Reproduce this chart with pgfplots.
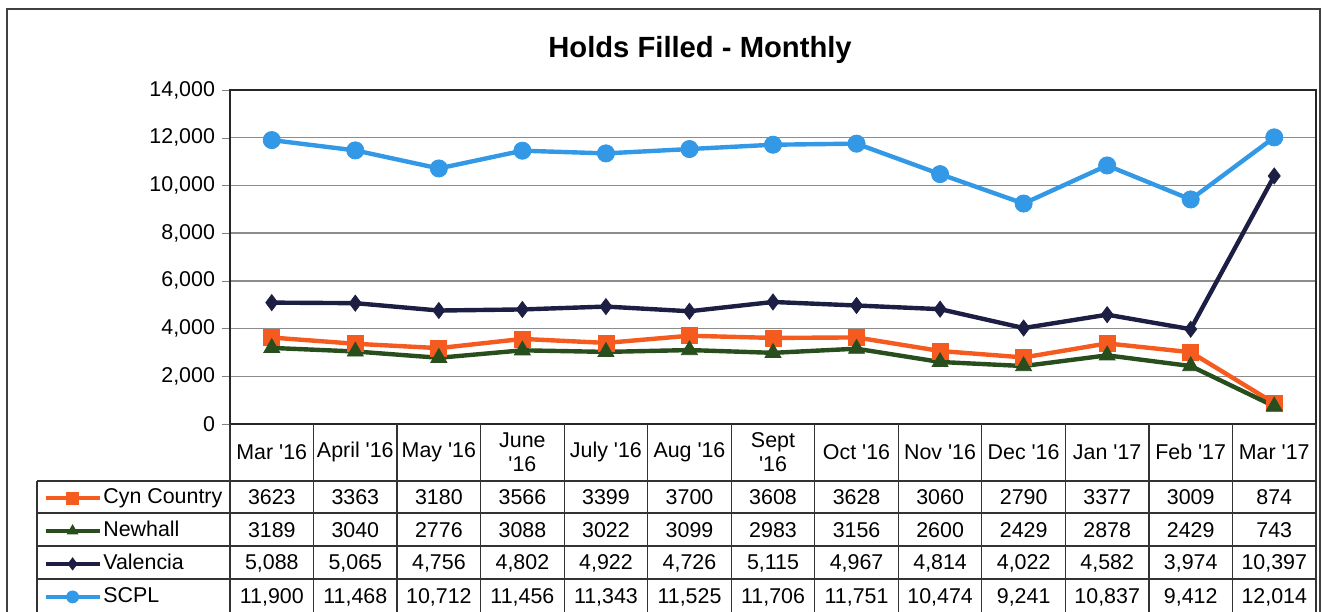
\documentclass[border=0pt]{standalone}
\usepackage{fontspec}
\setmainfont{Liberation Sans}[Ligatures=TeXOff]
\usepackage{pgfplots}
\pgfplotsset{compat=1.18}
\definecolor{cyn}{RGB}{245,90,30}
\definecolor{newh}{RGB}{40,78,30}
\definecolor{val}{RGB}{28,30,68}
\definecolor{scpl}{RGB}{51,153,230}
\pgfkeys{/pgf/number format/assume math mode=true}
\newcommand\tf{\fontsize{10.7}{12}\selectfont}
\begin{document}
\begin{tikzpicture}[x=0.5pt,y=0.5pt,font=\tf]
\useasboundingbox (0,0) rectangle (1323,611);
\draw[line width=0.8pt, black!75] (7,-10) -- (7,602) -- (1320,602) -- (1320,-10);
\node[font=\bfseries\fontsize{14.6}{16}\selectfont] at (700,561) {Holds Filled - Monthly};
\begin{axis}[at={(115pt,93.5pt)}, anchor=south west, scale only axis,
  width=543pt, height=167pt,
  xmin=-0.5, xmax=12.5, ymin=0, ymax=14000,
  ytick={0,2000,...,14000}, ytick pos=left, scaled y ticks=false,
  xtick={0,...,12},
  xticklabels={Mar '16, April '16, May '16, {June\\'16}, July '16, Aug '16, {Sept\\'16}, Oct '16, Nov '16, Dec '16, Jan '17, Feb '17, Mar '17},
  xticklabel style={align=center, anchor=center, yshift=-10pt, font=\tf},
  xtick style={draw=none},
  /pgf/number format/1000 sep={,},
  /pgf/number format/assume math mode=true,
  tick label style={font=\tf},
  tick align=outside, major tick length=4pt,
  ymajorgrids, grid style={black!45, line width=0.7pt},
  axis line style={line width=0.7pt, black!85},
  clip=false,
  legend style={at={(-0.1722,-0.1707)}, anchor=north west, draw=none, fill=none,
    inner sep=0pt, row sep=0pt, column sep=0.8pt, font=\tf,
    nodes={inner sep=0pt, minimum height=16.5pt, text height=7.7pt, text depth=2.3pt}},
  legend cell align=left,
  legend image code/.code={\draw[#1, mark repeat=2, mark phase=2, mark size=3pt] plot coordinates {(0pt,0pt) (13.5pt,0pt) (27pt,0pt)};},
  every axis plot/.append style={line width=2.2pt, mark options={solid, line width=0.4pt}},
]
\addplot[cyn, mark=square*, mark size=4pt] coordinates {(0,3623) (1,3363) (2,3180) (3,3566) (4,3399) (5,3700) (6,3608) (7,3628) (8,3060) (9,2790) (10,3377) (11,3009) (12,874)};
\addlegendentry{Cyn Country}
\addplot[newh, mark=triangle*, mark size=4.6pt] coordinates {(0,3189) (1,3040) (2,2776) (3,3088) (4,3022) (5,3099) (6,2983) (7,3156) (8,2600) (9,2429) (10,2878) (11,2429) (12,743)};
\addlegendentry{Newhall}
\addplot[val, mark=diamond*, mark size=4pt] coordinates {(0,5088) (1,5065) (2,4756) (3,4802) (4,4922) (5,4726) (6,5115) (7,4967) (8,4814) (9,4022) (10,4582) (11,3974) (12,10397)};
\addlegendentry{Valencia}
\addplot[scpl, mark=*, mark size=4.3pt] coordinates {(0,11900) (1,11468) (2,10712) (3,11456) (4,11343) (5,11525) (6,11706) (7,11751) (8,10474) (9,9241) (10,10837) (11,9412) (12,12014)};
\addlegendentry{SCPL}
\end{axis}
% table grid
\begin{scope}[line width=0.6pt, black!80]
\foreach \k in {0,...,13} \draw ({230+83.54*\k},187) -- ({230+83.54*\k},-10);
\foreach \yy in {130,98,65,32} \draw (37,\yy) -- (1316,\yy);
\draw (37,130) -- (37,-10);
\end{scope}
\begin{scope}[every node/.style={text height=7.6pt, text depth=0pt, inner sep=0pt}]
\foreach \v [count=\i from 0] in {3623,3363,3180,3566,3399,3700,3608,3628,3060,2790,3377,3009,874}
  \node at ({271.8+83.54*\i},114) {\v};
\foreach \v [count=\i from 0] in {3189,3040,2776,3088,3022,3099,2983,3156,2600,2429,2878,2429,743}
  \node at ({271.8+83.54*\i},81) {\v};
\foreach \v [count=\i from 0] in {5088,5065,4756,4802,4922,4726,5115,4967,4814,4022,4582,3974,10397}
  \node at ({271.8+83.54*\i},49) {\pgfmathprintnumber[1000 sep={,}]{\v}};
\foreach \v [count=\i from 0] in {11900,11468,10712,11456,11343,11525,11706,11751,10474,9241,10837,9412,12014}
  \node at ({271.8+83.54*\i},15) {\pgfmathprintnumber[1000 sep={,}]{\v}};
\end{scope}
\end{tikzpicture}
\end{document}
